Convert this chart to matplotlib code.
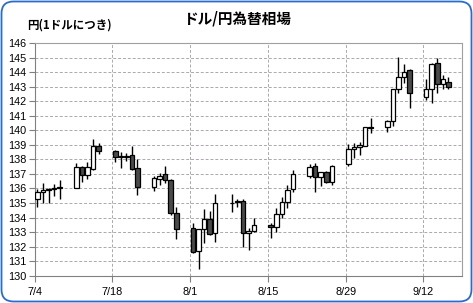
import matplotlib.pyplot as plt
import matplotlib.dates as mdates
import pandas as pd
from matplotlib.patches import FancyBboxPatch

# daily USD/JPY candles
dates = [
    "2022-07-04", "2022-07-05", "2022-07-06", "2022-07-07", "2022-07-08",
    "2022-07-11", "2022-07-12", "2022-07-13", "2022-07-14", "2022-07-15",
    "2022-07-18", "2022-07-19", "2022-07-20", "2022-07-21", "2022-07-22",
    "2022-07-25", "2022-07-26", "2022-07-27", "2022-07-28", "2022-07-29",
    "2022-08-01", "2022-08-02", "2022-08-03", "2022-08-04", "2022-08-05",
    "2022-08-08", "2022-08-09", "2022-08-10", "2022-08-11", "2022-08-12",
    "2022-08-15", "2022-08-16", "2022-08-17", "2022-08-18", "2022-08-19",
    "2022-08-22", "2022-08-23", "2022-08-24", "2022-08-25", "2022-08-26",
    "2022-08-29", "2022-08-30", "2022-08-31", "2022-09-01", "2022-09-02",
    "2022-09-05", "2022-09-06", "2022-09-07", "2022-09-08", "2022-09-09",
    "2022-09-12", "2022-09-13", "2022-09-14", "2022-09-15", "2022-09-16",
]
opens = [
    135.30, 135.75, 135.92, 135.94, 136.00,
    136.00, 137.45, 136.93, 137.34, 138.94,
    138.58, 138.18, 138.18, 138.30, 137.39,
    136.08, 136.67, 137.00, 136.58, 134.29,
    133.26, 131.70, 133.19, 133.88, 132.92,
    135.00, 135.08, 135.16, 132.92, 133.07,
    133.49, 133.33, 134.22, 135.05, 135.94,
    136.88, 137.54, 136.81, 137.11, 136.47,
    137.66, 138.71, 138.85, 138.92, 140.20,
    140.20, 140.64, 142.82, 143.69, 144.15,
    142.27, 142.82, 144.61, 143.16, 143.34,
]
highs = [
    135.95, 136.40, 136.05, 136.30, 136.58,
    137.78, 137.55, 137.84, 139.38, 139.15,
    138.65, 138.53, 138.46, 138.92, 138.00,
    136.86, 137.08, 137.54, 136.63, 134.70,
    133.60, 133.22, 134.57, 134.45, 135.60,
    135.60, 135.27, 135.25, 133.26, 133.95,
    133.60, 134.64, 135.43, 136.24, 137.27,
    137.66, 137.73, 137.15, 137.22, 137.60,
    139.06, 139.15, 139.22, 140.25, 140.82,
    140.68, 142.85, 145.06, 144.54, 144.20,
    143.50, 144.60, 144.95, 143.80, 143.69,
]
lows = [
    134.70, 135.00, 135.00, 135.45, 135.28,
    136.00, 136.47, 136.65, 137.27, 138.37,
    137.84, 137.39, 137.90, 137.30, 135.55,
    135.85, 136.24, 136.35, 134.17, 132.50,
    131.58, 130.44, 132.27, 132.78, 132.30,
    134.36, 134.70, 131.99, 131.77, 133.00,
    132.57, 133.03, 133.95, 134.64, 135.73,
    136.70, 135.78, 136.19, 136.35, 136.24,
    137.57, 138.07, 138.30, 138.90, 139.84,
    139.90, 140.30, 142.54, 143.28, 141.51,
    142.08, 141.86, 142.54, 142.82, 142.82,
]
closes = [
    135.75, 135.88, 135.94, 136.00, 136.08,
    137.45, 136.93, 137.45, 138.92, 138.60,
    138.14, 138.20, 138.20, 137.36, 136.08,
    136.70, 136.88, 136.56, 134.29, 133.19,
    131.61, 133.19, 133.88, 132.87, 134.98,
    135.03, 135.10, 132.92, 133.07, 133.47,
    133.33, 134.22, 135.05, 135.89, 137.00,
    137.45, 136.77, 137.11, 136.47, 137.54,
    138.71, 138.88, 138.99, 140.20, 140.16,
    140.64, 142.82, 143.69, 144.04, 142.54,
    142.82, 144.54, 143.16, 143.50, 143.00,
]
tick_dates = ["2022-07-04", "2022-07-18", "2022-08-01", "2022-08-15", "2022-08-29", "2022-09-12"]
tick_labels = ["7/4", "7/18", "8/1", "8/15", "8/29", "9/12"]
x_start, x_end = "2022-07-04", "2022-09-19"

df = pd.DataFrame({"date": pd.to_datetime(dates), "open": opens, "high": highs,
                   "low": lows, "close": closes})
# candles sit in the middle of their day slot (Excel "between tick marks")
df["x"] = mdates.date2num(df["date"]) + 0.5
up = df["close"] >= df["open"]

plt.rcParams["font.family"] = ["Liberation Sans", "Noto Sans CJK JP", "DejaVu Sans"]

fig = plt.figure(figsize=(4.73, 3.03), dpi=100)
ax = fig.add_axes([0.0734, 0.0901, 0.904, 0.768])

ax.vlines(df["x"], df["low"], df["high"], color="black", linewidth=1.0, zorder=2)
body_bottom = df[["open", "close"]].min(axis=1)
body_height = (df["close"] - df["open"]).abs().clip(lower=0.03)
ax.bar(df["x"], body_height, bottom=body_bottom, width=0.82,
       color=["white" if u else "#4a4a4a" for u in up],
       edgecolor="black", linewidth=0.9, zorder=3)

ax.set_ylim(130, 146)
ax.set_yticks(range(130, 147))
ax.set_xlim(mdates.date2num(pd.Timestamp(x_start)), mdates.date2num(pd.Timestamp(x_end)))
ax.set_xticks(mdates.date2num(pd.to_datetime(tick_dates)))
ax.set_xticklabels(tick_labels)

ax.grid(True, color="#aca8ae", linestyle=(0, (3, 2)), linewidth=0.7, zorder=0)
ax.set_axisbelow(True)
for side in ["top", "right"]:
    ax.spines[side].set_color("#a0a0a0")
for side in ["left", "bottom"]:
    ax.spines[side].set_color("#808080")
ax.tick_params(axis="both", direction="out", length=4, color="#808080",
               labelsize=7.8, labelcolor="black", pad=2)
ax.tick_params(axis="x", pad=4)

fig.text(237 / 473, 1 - 19 / 303, "ドル/円為替相場", ha="center", va="center",
         fontsize=10.5, fontweight="bold", family=["Noto Sans CJK JP", "DejaVu Sans"])
fig.text(27 / 473, 1 - 25 / 303, "円(1ドルにつき)", ha="left", va="center",
         fontsize=8.3, fontweight="bold", family=["Noto Sans CJK JP", "DejaVu Sans"])

border = FancyBboxPatch((0.015, 0.015), 4.70, 3.0, boxstyle="round,pad=0,rounding_size=0.12",
                        transform=fig.dpi_scale_trans, facecolor="none",
                        edgecolor="#2a6bd0", linewidth=1.3)
fig.patches.append(border)

fig.savefig("out.png", dpi=100)
